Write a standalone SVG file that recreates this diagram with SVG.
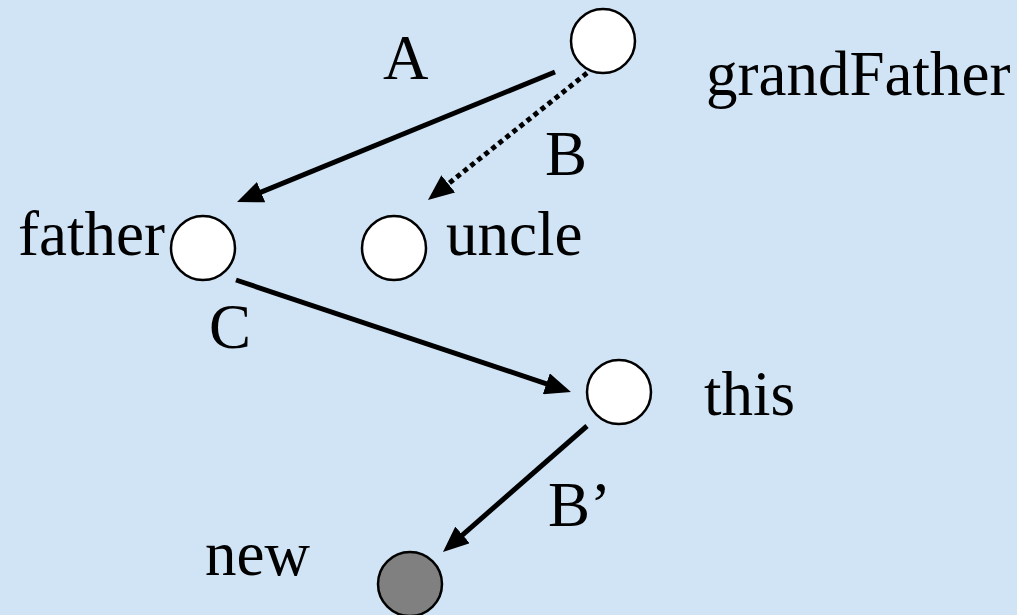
<svg xmlns="http://www.w3.org/2000/svg" width="1017" height="615" viewBox="0 0 1017 615">
<style>
.bg{fill:#D1E4F5}
.node{fill:#FFFFFF;stroke:#000000;stroke-width:2.5}
.node.new{fill:#808080}
.lbl{font-family:"Liberation Serif","Times New Roman",serif;font-size:63px;fill:#000000}
.edge{stroke:#000000;stroke-width:5;fill:none}
.dot{stroke-dasharray:5 4}
</style>
<defs>
<marker id="ah" markerUnits="userSpaceOnUse" viewBox="0 0 26 22" refX="12" refY="11" markerWidth="26" markerHeight="22" orient="auto">
<path d="M0,0 L26,11 L0,22 Z" fill="#000000"/>
</marker>
</defs>
<rect class="bg" x="0" y="0" width="1017" height="615"/>
<g id="connectors">
<line id="edge-A" class="edge" x1="555" y1="72" x2="250" y2="196.7" marker-end="url(#ah)"/>
<line id="edge-B" class="edge dot" x1="587" y1="73" x2="438.9" y2="191.3" marker-end="url(#ah)"/>
<line id="edge-C" class="edge" x1="236" y1="280" x2="557.7" y2="387.6" marker-end="url(#ah)"/>
<line id="edge-Bp" class="edge" x1="587" y1="426" x2="453.5" y2="542.8" marker-end="url(#ah)"/>
<text class="lbl" x="383" y="79">A</text>
<text class="lbl" x="545" y="175">B</text>
<text class="lbl" x="209" y="348">C</text>
<text class="lbl" x="548" y="526">B’</text>
</g>
<g id="grandFather">
<circle class="node" cx="603" cy="41" r="32"/>
<text class="lbl" x="706" y="95">grandFather</text>
</g>
<g id="father">
<circle class="node" cx="203" cy="248" r="32"/>
<text class="lbl" x="18" y="255">father</text>
</g>
<g id="uncle">
<circle class="node" cx="394" cy="248" r="32"/>
<text class="lbl" x="446" y="255">uncle</text>
</g>
<g id="this">
<circle class="node" cx="619" cy="392" r="32"/>
<text class="lbl" x="704" y="415">this</text>
</g>
<g id="new">
<circle class="node new" cx="410" cy="584" r="32"/>
<text class="lbl" x="205" y="575">new</text>
</g>
</svg>
